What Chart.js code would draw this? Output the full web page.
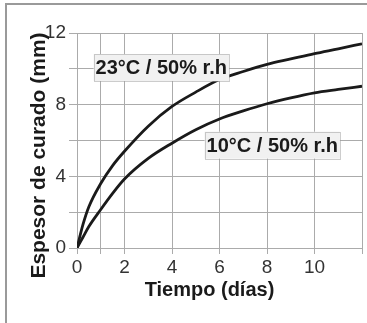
<!DOCTYPE html>
<html>
<head>
<meta charset="utf-8">
<script src="https://cdn.jsdelivr.net/npm/chart.js@4.4.0/dist/chart.umd.min.js"></script>
<style>
  body { margin: 0; background: #fff; }
  canvas { display: block; }
</style>
</head>
<body>
<canvas id="grafico" width="367" height="323"></canvas>
<script>
// Datos (tiempo en días, espesor en mm)
const dias = [0, 0.25, 0.5, 1, 1.5, 2, 3, 4, 5, 6, 7, 8, 9, 10, 11, 12];
const curva23 = [0, 1.3, 2.3, 3.6, 4.6, 5.4, 6.8, 7.9, 8.7, 9.4, 9.85, 10.25, 10.55, 10.85, 11.12, 11.4];
const curva10 = [0, 0.6, 1.2, 2.15, 3.05, 3.85, 5.0, 5.85, 6.6, 7.2, 7.65, 8.05, 8.38, 8.66, 8.85, 9.03];

// Etiquetas de las curvas: texto y posición en unidades de datos
const etiquetas = ['23°C / 50% r.h', '10°C / 50% r.h'];
const etiquetasX = [3.55, 8.22];
const etiquetasY = [10.07, 5.74];

const tituloX = 'Tiempo (días)';
const tituloY = 'Espesor de curado (mm)';

const FUENTE = '"Liberation Sans", Arial, sans-serif';
const GRIS = '#ababab';

// Marco gris del recorte original (solo izquierda y arriba)
const marco = {
  id: 'marco',
  beforeDraw(chart) {
    const ctx = chart.ctx;
    ctx.save();
    ctx.strokeStyle = '#9a9a9a';
    ctx.lineWidth = 2;
    ctx.beginPath();
    ctx.moveTo(6, chart.height);
    ctx.lineTo(6, 4);
    ctx.lineTo(chart.width, 4);
    ctx.stroke();
    ctx.restore();
  }
};

// Cajas con el nombre de cada curva y títulos de los ejes
const textos = {
  id: 'textos',
  afterDraw(chart) {
    const ctx = chart.ctx;
    const sx = chart.scales.x, sy = chart.scales.y;
    const area = chart.chartArea;
    ctx.save();
    ctx.font = 'bold 20px ' + FUENTE;
    ctx.textAlign = 'center';
    ctx.textBaseline = 'middle';
    etiquetas.forEach((txt, i) => {
      const cx = sx.getPixelForValue(etiquetasX[i]);
      const cy = sy.getPixelForValue(etiquetasY[i]);
      const w = ctx.measureText(txt).width + 4;
      const h = 27;
      ctx.fillStyle = '#f1f1f1';
      ctx.fillRect(cx - w / 2, cy - h / 2, w, h);
      ctx.setLineDash([1, 1]);
      ctx.strokeStyle = '#9a9a9a';
      ctx.lineWidth = 1;
      ctx.strokeRect(Math.round(cx - w / 2) + 0.5, Math.round(cy - h / 2) + 0.5, Math.round(w), h);
      ctx.setLineDash([]);
      ctx.fillStyle = '#1a1a1a';
      ctx.fillText(txt, cx, cy + 1);
    });

    // título del eje X
    ctx.fillStyle = '#1a1a1a';
    ctx.textBaseline = 'alphabetic';
    ctx.fillText(tituloX, (area.left + area.right) / 2 - 10, area.bottom + 48);

    // título del eje Y (girado)
    ctx.font = 'bold 21px ' + FUENTE;
    ctx.translate(45, (area.top + area.bottom) / 2 + 15);
    ctx.rotate(-Math.PI / 2);
    ctx.fillText(tituloY, 0, 0);
    ctx.restore();
  }
};

const ctx = document.getElementById('grafico').getContext('2d');
new Chart(ctx, {
  type: 'line',
  data: {
    labels: dias,
    datasets: [
      {
        label: etiquetas[0],
        data: dias.map((d, i) => ({ x: d, y: curva23[i] })),
        borderColor: '#1a1a1a',
        borderWidth: 2.8,
        pointRadius: 0,
        cubicInterpolationMode: 'monotone',
        fill: false
      },
      {
        label: etiquetas[1],
        data: dias.map((d, i) => ({ x: d, y: curva10[i] })),
        borderColor: '#1a1a1a',
        borderWidth: 2.8,
        pointRadius: 0,
        cubicInterpolationMode: 'monotone',
        fill: false
      }
    ]
  },
  options: {
    responsive: false,
    animation: false,
    layout: { padding: { left: 0, top: 33, right: 5, bottom: 0 } },
    plugins: {
      legend: { display: false },
      tooltip: { enabled: false }
    },
    scales: {
      x: {
        type: 'linear',
        min: 0,
        max: 12,
        afterFit: s => { s.height = 75; },
        grid: {
          color: c => (c.tick.value % 2 === 0 || c.tick.value === 1) ? GRIS : 'rgba(0,0,0,0)',
          tickLength: 6
        },
        border: { color: GRIS },
        ticks: {
          stepSize: 1,
          padding: 2,
          color: '#333',
          font: { family: FUENTE, size: 19 },
          maxRotation: 0,
          autoSkip: false,
          callback: v => (v % 2 === 0 && v < 12) ? String(v) : ''
        }
      },
      y: {
        min: 0,
        max: 12,
        afterFit: s => { s.width = 77; },
        grid: { color: GRIS, tickLength: 8 },
        border: { color: GRIS },
        ticks: {
          stepSize: 2,
          padding: 3,
          color: '#333',
          font: { family: FUENTE, size: 19 },
          callback: v => (v % 4 === 0) ? String(v) : ''
        }
      }
    }
  },
  plugins: [marco, textos]
});
</script>
</body>
</html>
